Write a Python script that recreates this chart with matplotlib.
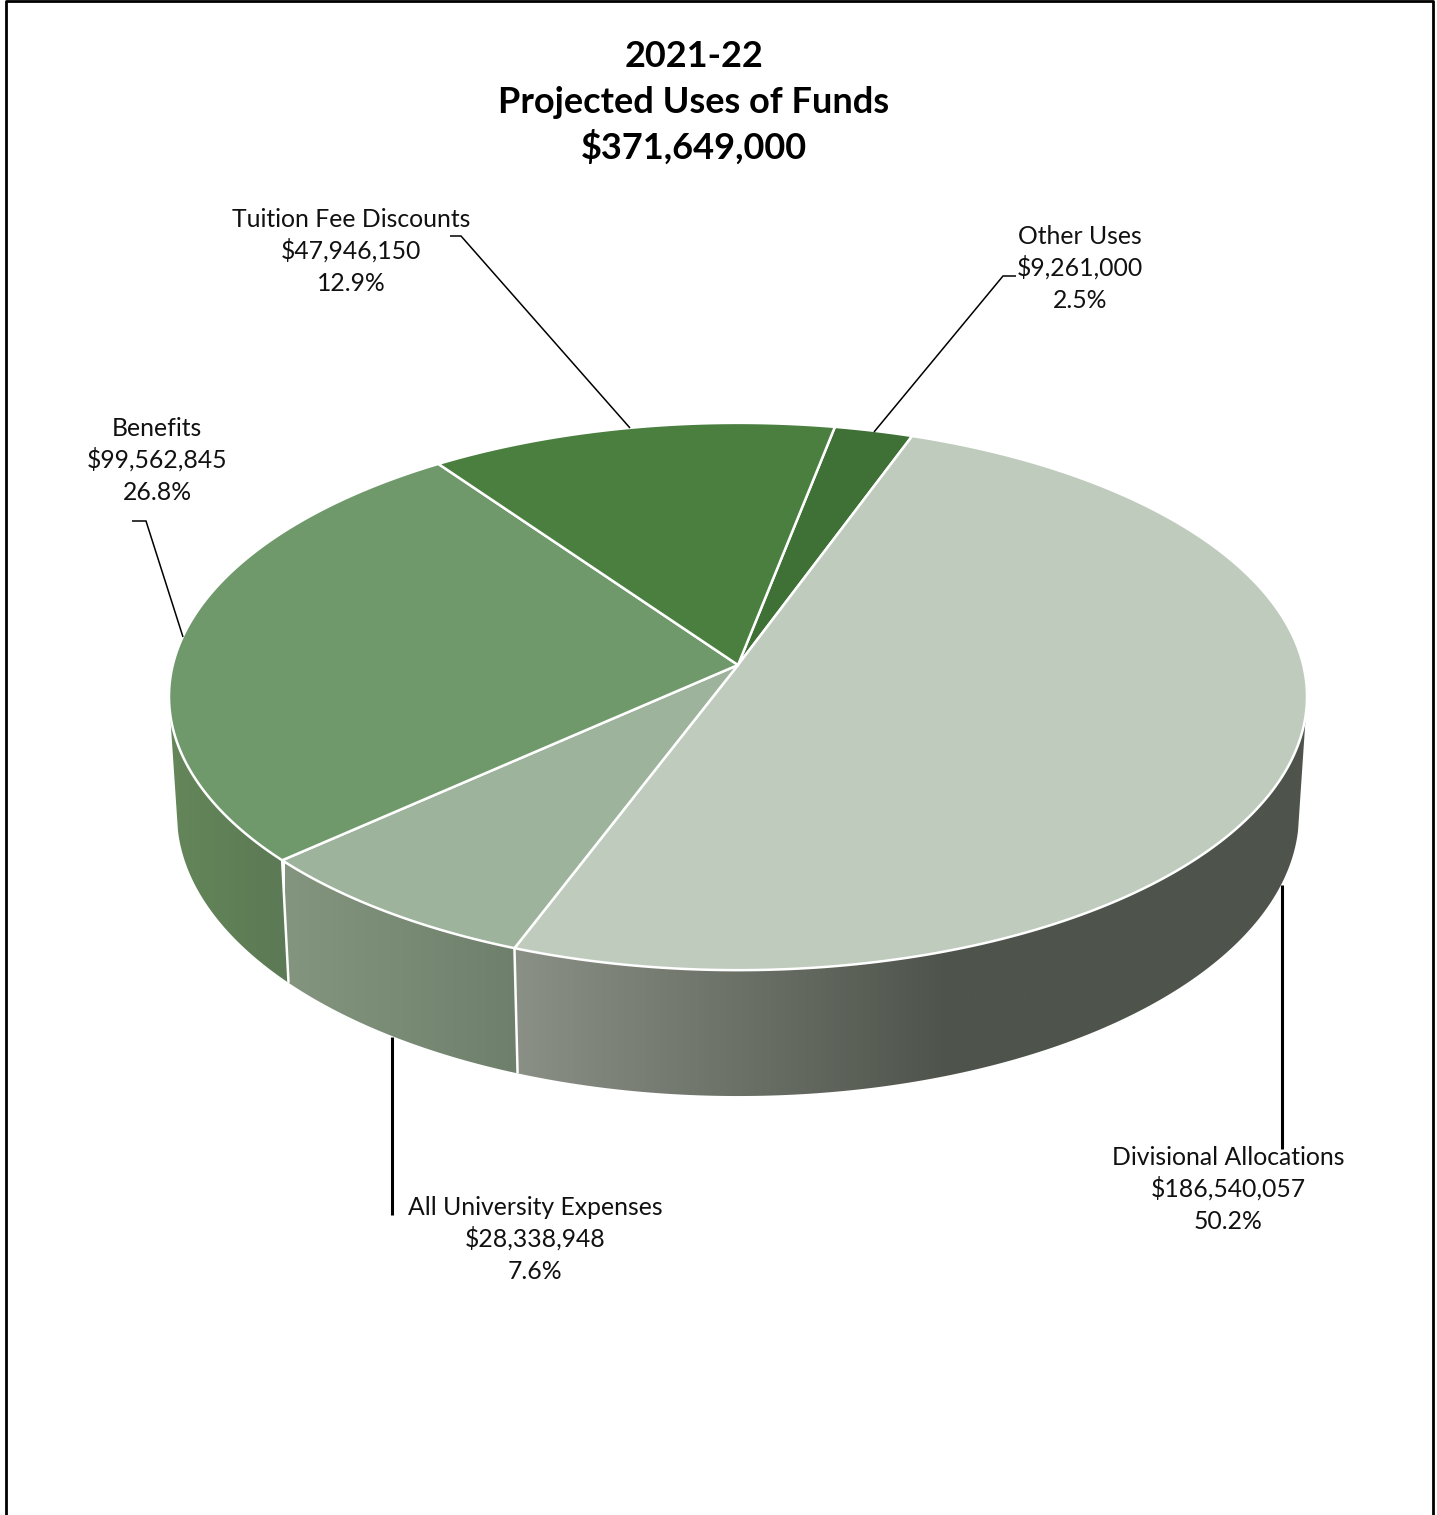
import matplotlib
matplotlib.use("Agg")
import matplotlib.pyplot as plt
import numpy as np
from matplotlib.colors import LinearSegmentedColormap
from matplotlib.patches import Polygon

# Slices in clockwise drawing order
names = ["Other Uses", "Divisional Allocations", "All University Expenses", "Benefits", "Tuition Fee Discounts"]
amounts = [9261000, 186540057, 28338948, 99562845, 47946150]
total_funds = 371649000
title_lines = ["2021-22", "Projected Uses of Funds", f"${total_funds:,}"]

top_colors = ["#3f7035", "#bfcbbd", "#9db39b", "#70996b", "#4a7f40"]
wall_stops = {
    1: ["#8b9086", "#4e544b", "#4e544b"],
    2: ["#84957f", "#6e7f6b", "#6e7f6b"],
    3: ["#648659", "#5c7a55", "#5c7a55"],
}
wall_ranges = {1: (515, 950, 1310), 2: (285, 518, 525), 3: (170, 285, 295)}

# Centre x and first baseline of each three-line label
label_pos = [(1080, 244), (1228, 1165), (535, 1215), (157, 436), (351, 227)]

# Leader lines as (x, y) runs in pixels
leaders = [
    ([1016, 1003, 874], [276, 276, 432], 1.1),
    ([1282, 1282], [885, 1149], 2.2),
    ([392, 392], [1037, 1215], 2.2),
    ([132, 146, 183], [521, 521, 637], 1.1),
    ([450, 461, 630], [236, 236, 428], 1.1),
]

START_DEG = 11.0
PERSP = 0.1152
CX = 738
WALL_FROM, WALL_TO = 100.0, 260.0
LABEL_FONT = "Lato"

W, H = 1437, 1515
fig = plt.figure(figsize=(W / 100, H / 100), dpi=100)
ax = fig.add_axes([0, 0, 1, 1])


def project(theta_deg, cy, ax_x, ax_y):
    """Perspective view of a rim point, theta clockwise from the back of the pie."""
    t = np.radians(theta_deg)
    u, v = np.sin(t), np.cos(t)
    w = 1 + PERSP * v
    return CX + ax_x * u / w, cy - ax_y * v / w


def top_rim(theta):
    return project(theta, 665, 565.2, 270.0)


def bottom_rim(theta):
    return project(theta, 781.5, 557.3, 278.3)


shares = np.array(amounts) / sum(amounts)
edges = START_DEG + np.concatenate([[0], np.cumsum(shares) * 360])

# Side walls first, the top face covers whatever pokes out behind it
for i in wall_stops:
    a0 = max(edges[i], WALL_FROM)
    a1 = min(edges[i + 1], WALL_TO)
    th = np.linspace(a0, a1, 200)
    tx, ty = top_rim(th)
    bx, by = bottom_rim(th)
    pts = np.column_stack([np.r_[tx, bx[::-1]], np.r_[ty, by[::-1]]])
    clip = Polygon(pts, closed=True, fc="none", ec="none", transform=ax.transData)
    ax.add_patch(clip)

    x0, x1, x2 = wall_ranges[i]
    cmap = LinearSegmentedColormap.from_list(
        f"wall{i}",
        [((x - x0) / (x2 - x0), c) for x, c in zip((x0, x1, x2), wall_stops[i])],
    )
    grad = np.linspace(0, 1, 512).reshape(1, -1)
    im = ax.imshow(grad, cmap=cmap, extent=(x0, x2, 1200, 700), aspect="auto", zorder=2)
    im.set_clip_path(clip)

# White seams between the wall panels
for i in (1, 2):
    tx, ty = top_rim(edges[i + 1])
    bx, by = bottom_rim(edges[i + 1])
    ax.plot([tx, bx], [ty, by], color="white", lw=1.8, zorder=3, solid_capstyle="butt")

# Top face
for i, color in enumerate(top_colors):
    th = np.linspace(edges[i], edges[i + 1], 300)
    rx, ry = top_rim(th)
    pts = np.column_stack([np.r_[CX, rx], np.r_[665, ry]])
    ax.add_patch(Polygon(pts, closed=True, fc=color, ec="white", lw=1.8, zorder=4, joinstyle="round"))

for xs, ys, lw in leaders:
    ax.plot(xs, ys, color="black", lw=lw, zorder=5, solid_capstyle="butt", solid_joinstyle="miter")

# Labels
for name, amount, share, (x, y) in zip(names, amounts, shares, label_pos):
    lines = [name, f"${amount:,}", f"{share * 100:.1f}%"]
    for j, line in enumerate(lines):
        ax.text(x, y + j * 32, line, ha="center", va="baseline", fontsize=17.8,
                family=LABEL_FONT, color="#111111", zorder=6)

for j, line in enumerate(title_lines):
    ax.text(694, 67 + j * 46, line, ha="center", va="baseline", fontsize=26,
            family=LABEL_FONT, fontweight="bold", color="black", zorder=6)

# Frame runs off the bottom of the page
ax.plot([5.5, 5.5, 1433, 1433], [H + 5, 1, 1, H + 5], color="black", lw=2, zorder=7)

ax.set_xlim(0, W)
ax.set_ylim(H, 0)
ax.axis("off")
fig.savefig("out.png", dpi=100, facecolor="white")
